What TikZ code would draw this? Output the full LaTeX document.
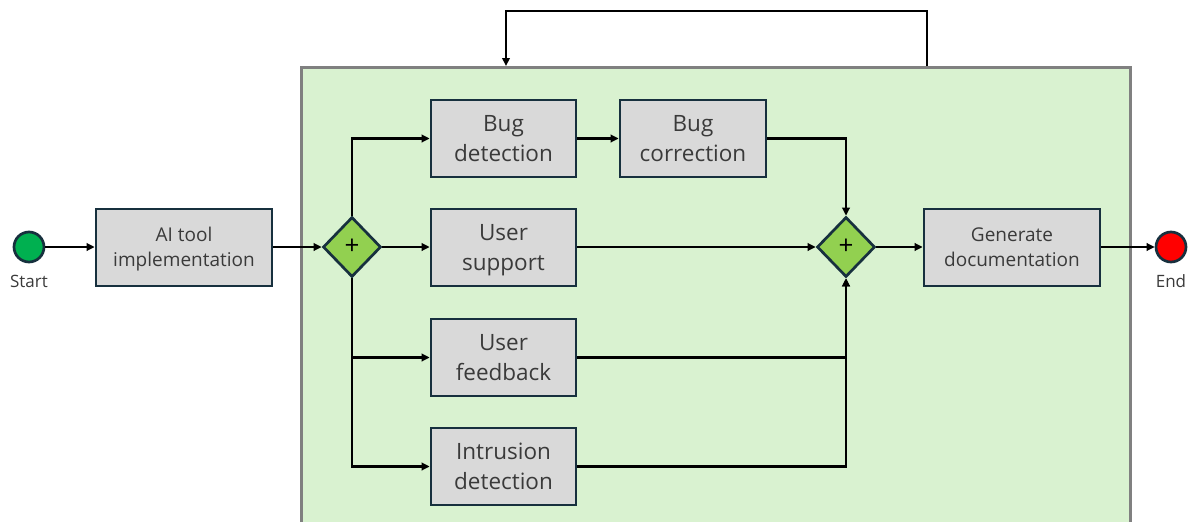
\documentclass[tikz,border=0pt]{standalone}
\usepackage{fontspec}
\setmainfont{Open Sans}
\usetikzlibrary{shapes.geometric,arrows.meta}

\definecolor{poolfill}{HTML}{D9F2D0}
\definecolor{poolline}{HTML}{808080}
\definecolor{taskfill}{HTML}{D9D9D9}
\definecolor{edgeline}{HTML}{17303E}
\definecolor{gatefill}{HTML}{92D050}
\definecolor{startfill}{HTML}{00B050}
\definecolor{endfill}{HTML}{FF0000}
\definecolor{labeltext}{HTML}{3A3A3A}

\tikzset{
  pool/.style={rectangle, draw=poolline, fill=poolfill, line width=2.5pt,
    anchor=north west, inner sep=0pt},
  task/.style={rectangle, draw=edgeline, fill=taskfill, line width=2.7pt,
    minimum width=145pt, minimum height=77pt, align=center, inner sep=0pt,
    text=labeltext, font=\fontsize{22.5}{30}\selectfont,
    text height=50pt, text depth=3.4pt},
  widetask/.style={task, minimum width=176pt, font=\fontsize{19}{25}\selectfont,
    text height=42pt, text depth=3.6pt},
  gate/.style={diamond, draw=edgeline, fill=gatefill, line width=2.7pt,
    minimum width=58pt, minimum height=60pt, inner sep=0pt,
    font=\fontsize{26}{26}\selectfont},
  event/.style={circle, draw=edgeline, line width=2.7pt, minimum size=30pt, inner sep=0pt},
  evlabel/.style={text=labeltext, font=\fontsize{17}{20}\selectfont},
  flow/.style={line width=2.6pt, -{Triangle[length=8pt,width=7.5pt]}},
}

\begin{document}
\begin{tikzpicture}[x=1pt, y=-1pt]
\useasboundingbox (0,0) rectangle (1192,522);

% sub-process area
\node[pool, minimum width=829pt, minimum height=470pt] (pool) at (300,66) {};
\coordinate (loopout) at (927,66);
\coordinate (loopin) at (506,66);

% events
\node[event, fill=startfill] (start) at (29,247) {};
\node[evlabel] (startlbl) at (29,281) {Start};
\node[event, fill=endfill] (end) at (1171,247) {};
\node[evlabel] (endlbl) at (1171,281) {End};

% tasks
\node[widetask] (impl) at (184,247.5) {AI tool\\implementation};
\node[gate] (split) at (352,247) {+};
\node[task] (bugdet) at (503.5,138.5) {Bug\\detection};
\node[task, minimum width=146pt] (bugcor) at (693,138.5) {Bug\\correction};
\node[task] (support) at (503.5,247.5) {User\\support};
\node[task] (feedback) at (503.5,357.5) {User\\feedback};
\node[task] (intrusion) at (503.5,466.5) {Intrusion\\detection};
\node[gate] (join) at (846,247) {+};
\node[widetask] (docs) at (1012,247.5) {Generate\\documentation};

% sequence flows
\draw[flow] (start.east) -- (start.east -| impl.west);
\draw[flow] (impl.east |- split.west) -- (split.west);
\draw[flow] (split.north) |- (bugdet.west);
\draw[flow] (split.east) -- (split.east -| support.west);
\draw[flow] (split.south) |- (feedback.west);
\draw[flow] (split.south) |- (intrusion.west);
\draw[flow] (bugdet.east) -- (bugcor.west);
\draw[flow] (bugcor.east) -| (join.north);
\draw[flow] (support.east |- join.west) -- (join.west);
\draw[flow] (feedback.east) -| (join.south);
\draw[flow] (intrusion.east) -| (join.south);
\draw[flow] (join.east) -- (join.east -| docs.west);
\draw[flow] (docs.east |- end.west) -- (end.west);

% repeat loop over the sub-process
\draw[flow] (loopout) -- (loopout |- 0,11) -- (loopin |- 0,11) -- (loopin);
\end{tikzpicture}
\end{document}
